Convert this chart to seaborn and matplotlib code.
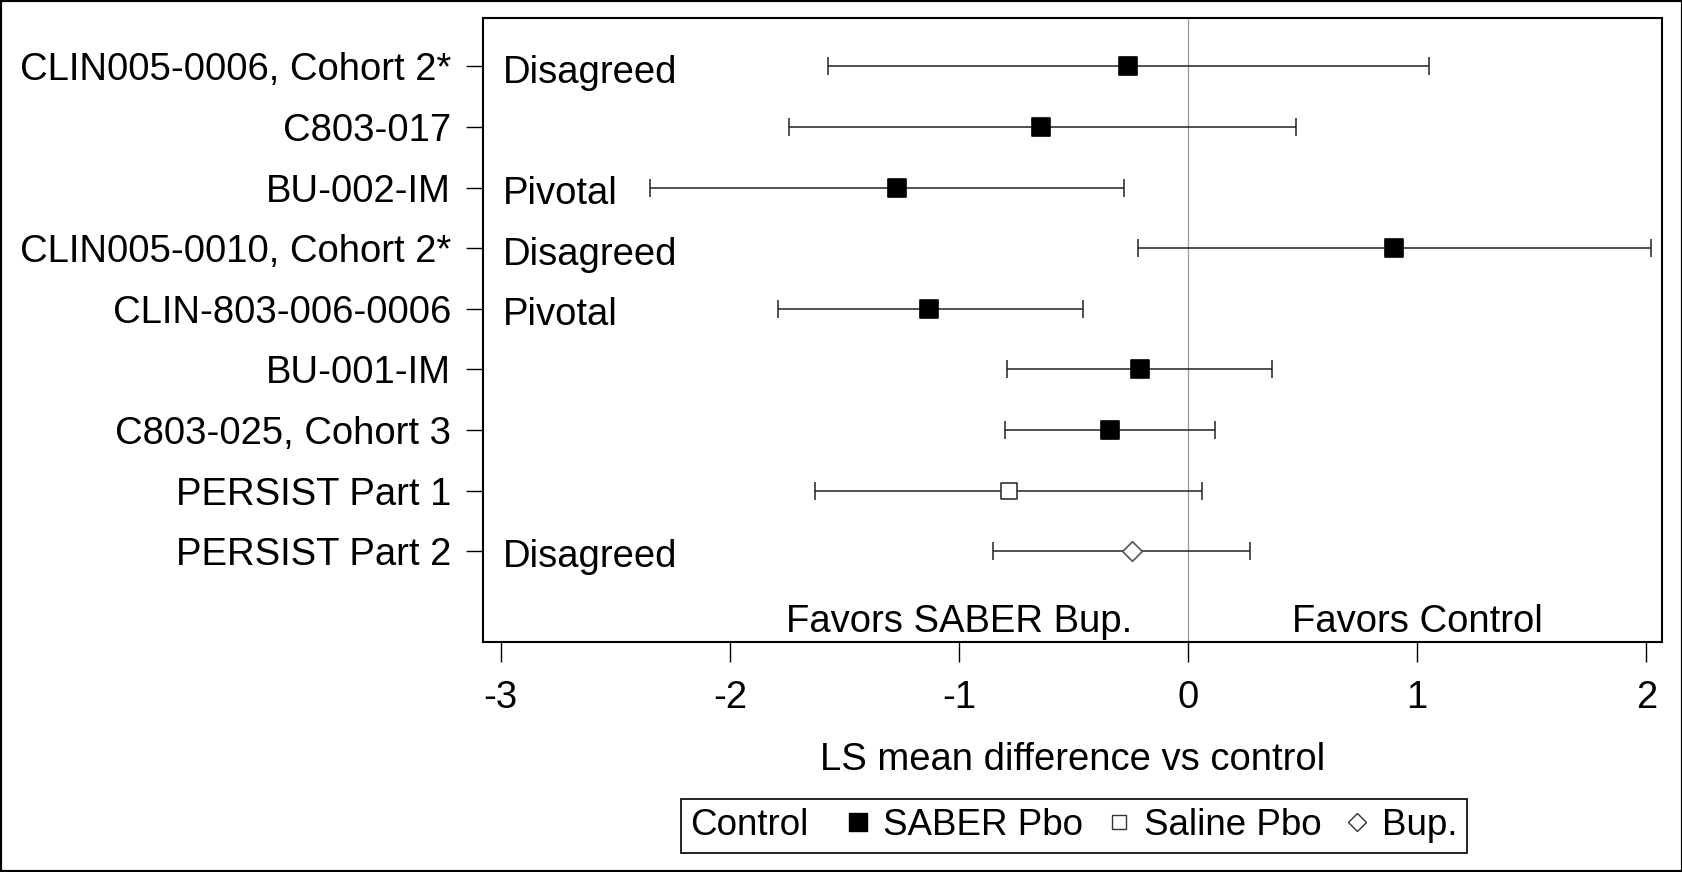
import numpy as np
import pandas as pd
import matplotlib
matplotlib.use("Agg")
import matplotlib.pyplot as plt
import seaborn as sns
from matplotlib.lines import Line2D
from matplotlib.patches import Rectangle
from matplotlib.offsetbox import HPacker

# ---------------- data ----------------
studies = ["CLIN005-0006, Cohort 2*", "C803-017", "BU-002-IM",
           "CLIN005-0010, Cohort 2*", "CLIN-803-006-0006", "BU-001-IM",
           "C803-025, Cohort 3", "PERSIST Part 1", "PERSIST Part 2"]
ls_mean = [-0.26, -0.64, -1.27, 0.90, -1.13, -0.21, -0.34, -0.78, -0.245]
ci_lower = [-1.57, -1.74, -2.35, -0.22, -1.79, -0.79, -0.80, -1.63, -0.85]
ci_upper = [1.05, 0.47, -0.28, 2.02, -0.46, 0.365, 0.12, 0.06, 0.27]
control = ["SABER Pbo"] * 7 + ["Saline Pbo", "Bup."]
notes = ["Disagreed", "", "Pivotal", "Disagreed", "Pivotal", "", "", "", "Disagreed"]
x_ticks = [-3, -2, -1, 0, 1, 2]
x_label = "LS mean difference vs control"
favor_left = "Favors SABER Bup."
favor_right = "Favors Control"
legend_title = "Control"
legend_labels = ["SABER Pbo", "Saline Pbo", "Bup."]

# ---------------- style ----------------
sns.set_theme(style="white")
plt.rcParams['font.family'] = ['Liberation Sans', 'DejaVu Sans']
plt.rcParams['text.color'] = 'black'
plt.rcParams['axes.labelcolor'] = 'black'
plt.rcParams['xtick.color'] = 'black'
plt.rcParams['ytick.color'] = 'black'
FS = 27.5

df = pd.DataFrame(dict(study=studies, mean=ls_mean, lo=ci_lower, hi=ci_upper,
                       control=control, note=notes))
df["row"] = np.arange(len(df))

W, H = 1683, 872
fig = plt.figure(figsize=(W / 100, H / 100), dpi=100)
ax = fig.add_axes([483 / W, 1 - 642 / H, (1662 - 483) / W, (642 - 18) / H])

ax.axvline(0, color="#9a9a9a", lw=0.9, zorder=1)
ax.errorbar(df["mean"], df["row"],
            xerr=[df["mean"] - df["lo"], df["hi"] - df["mean"]],
            fmt="none", ecolor="#222222", elinewidth=1.1, capsize=6.8,
            capthick=1.1, zorder=2)

styles = {
    "SABER Pbo": dict(marker="s", s=175, fc="black", ec="black"),
    "Saline Pbo": dict(marker="s", s=145, fc="white", ec="#333333"),
    "Bup.": dict(marker="D", s=100, fc="white", ec="#555555"),
}
for grp, st in styles.items():
    sub = df[df.control == grp]
    sns.scatterplot(data=sub, x="mean", y="row", marker=st["marker"], s=st["s"],
                    color=st["fc"], edgecolor=st["ec"], linewidth=1.2,
                    ax=ax, zorder=3, legend=False)

ax.set_yticks(df["row"], labels=df["study"])
ax.set_xticks(x_ticks, labels=[str(t) for t in x_ticks])
ax.set_ylim(9.5, -0.8)
ax.set_xlim(-3.077, 2.069)
ax.set_ylabel("")
ax.set_xlabel(x_label, fontsize=FS, color="black", va="center")
ax.xaxis.set_label_coords(0.5, (642 - 760) / 624)

ax.tick_params(axis="x", bottom=True, direction="out", length=14.5, width=1,
               pad=13, labelsize=FS, colors="black")
ax.tick_params(axis="y", left=True, direction="out", length=12, width=1,
               pad=11, labelsize=FS, colors="black")
for sp in ax.spines.values():
    sp.set_visible(True)
    sp.set_color("black")
    sp.set_linewidth(1.5)

for i, n in enumerate(df["note"]):
    if n:
        ax.text(-2.99, i + 0.27, n, ha="left", va="baseline", fontsize=FS,
                color="black")

ax.text(-1.0, 9.33, favor_left, ha="center", va="baseline", fontsize=FS, color="black")
ax.text(1.0, 9.33, favor_right, ha="center", va="baseline", fontsize=FS, color="black")

# ---------------- legend ----------------
handles = [
    Line2D([], [], ls="none", marker="s", ms=12.5, mfc="black", mec="black"),
    Line2D([], [], ls="none", marker="s", ms=10, mfc="white", mec="#333333", mew=1),
    Line2D([], [], ls="none", marker="D", ms=9, mfc="white", mec="#333333", mew=1),
]
leg = fig.legend(handles, legend_labels, title=legend_title, ncol=3,
                 loc="lower center", bbox_to_anchor=(1074 / W, 19.5 / H),
                 frameon=True, fancybox=False, edgecolor="black", framealpha=1,
                 fontsize=26.5, title_fontsize=26.5, handlelength=0.55,
                 handletextpad=0.4, columnspacing=0.7, borderpad=0.25,
                 borderaxespad=0, labelcolor="black")
leg.get_title().set_color("black")
leg.get_frame().set_linewidth(1.2)
try:
    box = leg._legend_box
    kids = box.get_children()
    hb = HPacker(pad=box.pad, sep=28, align="center", children=kids)
    hb.set_figure(fig)
    leg._legend_box = hb
    leg._loc = leg._loc
except Exception:
    pass

fig.patches.append(Rectangle((0, 0), 1, 1, transform=fig.transFigure,
                             fill=False, edgecolor="black", linewidth=3))

fig.savefig("out.png", dpi=100)
